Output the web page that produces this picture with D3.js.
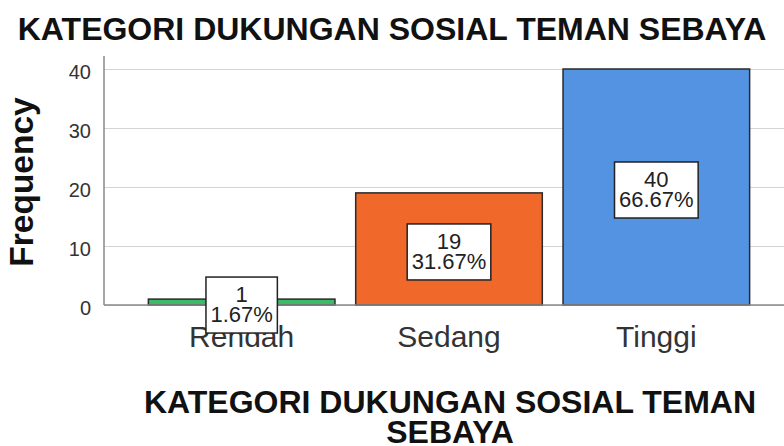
<!DOCTYPE html>
<html><head>
<script src="https://d3js.org/d3.v7.min.js"></script>
<style>
  body { margin: 0; background: #fff; }
  text { font-family: "Liberation Sans", Arial, sans-serif; }
  .gridlines line { stroke: #d4d4d4; }
  .gridlines .domain { stroke: none; }
</style>
</head>
<body>
<svg id="chart" width="784" height="446"></svg>
<script>
  // data
  const categories = ["Rendah", "Sedang", "Tinggi"];
  const counts = [1, 19, 40];
  const percents = ["1.67%", "31.67%", "66.67%"];
  const colors = ["#3cba68", "#f0692b", "#5393e2"];
  const yTicks = [0, 10, 20, 30, 40];

  const svg = d3.select("svg#chart");
  const plotLeft = 104, plotRight = 784, plotTop = 69, plotBottom = 305;

  const x = d3.scaleBand().domain(categories).range([138, 760]).paddingInner(0.1).paddingOuter(0.05);
  const y = d3.scaleLinear().domain([0, 40]).range([plotBottom, plotTop]);

  // gridlines
  svg.append("g").attr("class", "gridlines")
    .attr("transform", "translate(" + plotLeft + ",0)")
    .call(d3.axisRight(y).tickValues(yTicks).tickSize(plotRight - plotLeft).tickFormat(""));

  // bars
  svg.selectAll("rect.bar").data(categories).enter().append("rect")
    .attr("class", "bar")
    .attr("x", d => x(d))
    .attr("y", (d, i) => y(counts[i]))
    .attr("width", x.bandwidth())
    .attr("height", (d, i) => y(0) - y(counts[i]))
    .attr("fill", (d, i) => colors[i])
    .attr("stroke", "#2a2a2a")
    .attr("stroke-width", 1.5);

  // axes lines
  svg.append("line").attr("x1", plotLeft).attr("x2", plotRight).attr("y1", plotBottom).attr("y2", plotBottom)
    .attr("stroke", "#888").attr("stroke-width", 1.5);
  svg.append("line").attr("x1", plotLeft).attr("x2", plotLeft).attr("y1", 56).attr("y2", plotBottom)
    .attr("stroke", "#888").attr("stroke-width", 1.5);

  // y tick labels
  svg.selectAll("text.ytick").data(yTicks).enter().append("text")
    .attr("class", "ytick")
    .attr("x", 91).attr("y", d => y(d) + 10)
    .attr("text-anchor", "end")
    .attr("font-size", 20).attr("fill", "#333")
    .text(d => d);

  // category labels (drawn under the value boxes)
  svg.selectAll("text.xcat").data(categories).enter().append("text")
    .attr("class", "xcat")
    .attr("x", d => x(d) + x.bandwidth() / 2).attr("y", 347)
    .attr("text-anchor", "middle")
    .attr("font-size", 30).attr("fill", "#333")
    .text(d => d);

  // value boxes
  const labels = svg.selectAll("g.lab").data(categories).enter().append("g")
    .attr("class", "lab")
    .attr("transform", (d, i) => "translate(" + (x(d) + x.bandwidth() / 2) + "," + ((y(counts[i]) + y(0)) / 2 + 3) + ")");
  const box = labels.append("rect")
    .attr("y", -28)
    .attr("height", 56)
    .attr("fill", "#fff").attr("stroke", "#222").attr("stroke-width", 1.5);
  labels.append("text").attr("y", -3).attr("text-anchor", "middle").attr("font-size", 22).attr("fill", "#222")
    .text((d, i) => counts[i]);
  const pct = labels.append("text").attr("y", 17).attr("text-anchor", "middle").attr("font-size", 22).attr("fill", "#222")
    .text((d, i) => percents[i]);
  box.each(function(d, i) {
    const w = pct.nodes()[i].getComputedTextLength() + 9;
    d3.select(this).attr("x", -w / 2).attr("width", w);
  });

  // titles
  svg.append("text").attr("x", 392).attr("y", 40).attr("text-anchor", "middle")
    .attr("font-size", 32).attr("font-weight", "bold").attr("fill", "#111")
    .text("KATEGORI DUKUNGAN SOSIAL TEMAN SEBAYA");
  svg.append("text").attr("x", 450).attr("y", 413).attr("text-anchor", "middle")
    .attr("font-size", 32).attr("font-weight", "bold").attr("fill", "#111")
    .text("KATEGORI DUKUNGAN SOSIAL TEMAN");
  svg.append("text").attr("x", 450).attr("y", 443).attr("text-anchor", "middle")
    .attr("font-size", 32).attr("font-weight", "bold").attr("fill", "#111")
    .text("SEBAYA");
  svg.append("text").attr("transform", "translate(33,182) rotate(-90)").attr("text-anchor", "middle")
    .attr("font-size", 33.5).attr("font-weight", "bold").attr("fill", "#111")
    .text("Frequency");
</script>
</body></html>
